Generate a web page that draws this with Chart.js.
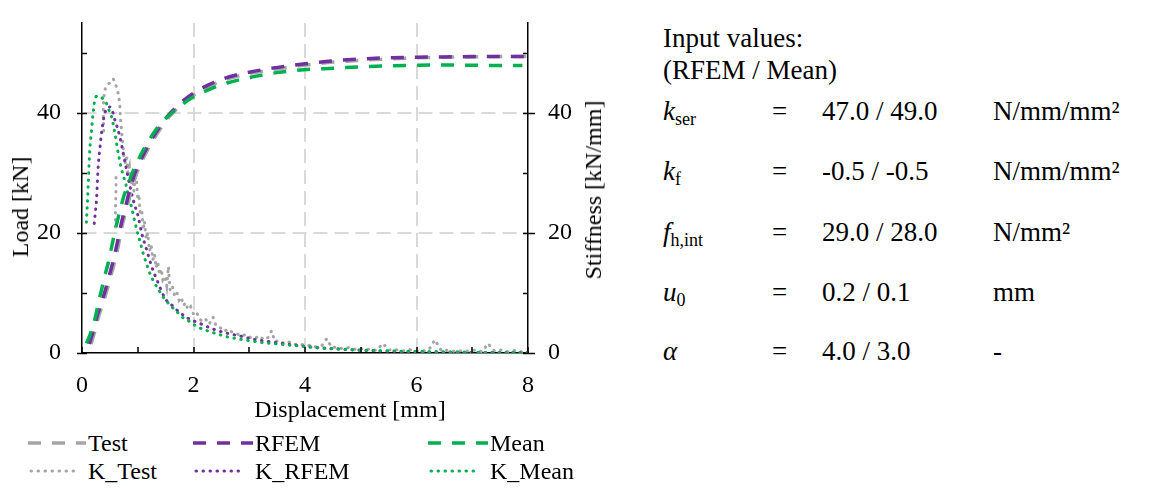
<!DOCTYPE html>
<html><head><meta charset="utf-8">
<script src="https://cdn.jsdelivr.net/npm/chart.js@4.4.1/dist/chart.umd.min.js"></script>
<style>
html,body{margin:0;padding:0;background:#fff;}
body{width:1175px;height:488px;overflow:hidden;position:relative;font-family:'Liberation Serif','Times New Roman',serif;color:#000;font-size:24px;}
#wrap{position:absolute;left:0;top:0;width:620px;height:400px;}
.t{position:absolute;white-space:nowrap;line-height:24px;}
.p{position:absolute;white-space:nowrap;font-size:27px;line-height:27px;}
.rot{transform:translate(-50%,-50%) rotate(-90deg);}
.ctr{transform:translateX(-50%);}
sub{font-size:18px;vertical-align:-5px;line-height:0;font-style:normal;}
svg{position:absolute;}
</style></head>
<body>
<div id="wrap"><canvas id="c" width="620" height="400"></canvas></div>

<div class="t rot" style="left:20px;top:207px;">Load [kN]</div>
<div class="t rot" style="left:593px;top:190px;">Stiffness [kN/mm]</div>
<div class="t ctr" style="left:350px;top:397px;">Displacement [mm]</div>

<!-- legend -->
<svg style="left:28px;top:431px" width="60" height="24"><line x1="0" y1="12" x2="58" y2="12" stroke="#A5A5A5" stroke-width="3.5" stroke-dasharray="13 11"/></svg>
<div class="t" style="left:88px;top:431px;">Test</div>
<svg style="left:193px;top:431px" width="64" height="24"><line x1="0" y1="12" x2="60" y2="12" stroke="#7030A0" stroke-width="3.5" stroke-dasharray="13 11"/></svg>
<div class="t" style="left:255px;top:431px;">RFEM</div>
<svg style="left:428px;top:431px" width="64" height="24"><line x1="0" y1="12" x2="60" y2="12" stroke="#00B050" stroke-width="3.5" stroke-dasharray="13 11"/></svg>
<div class="t" style="left:490px;top:431px;">Mean</div>
<svg style="left:28px;top:459px" width="60" height="24"><line x1="3" y1="12" x2="52" y2="12" stroke="#A5A5A5" stroke-width="3" stroke-linecap="round" stroke-dasharray="0.5 6.5"/></svg>
<div class="t" style="left:88px;top:459px;">K_Test</div>
<svg style="left:193px;top:459px" width="60" height="24"><line x1="3" y1="12" x2="52" y2="12" stroke="#7030A0" stroke-width="3" stroke-linecap="round" stroke-dasharray="0.5 6.5"/></svg>
<div class="t" style="left:255px;top:459px;">K_RFEM</div>
<svg style="left:428px;top:459px" width="60" height="24"><line x1="3" y1="12" x2="52" y2="12" stroke="#00B050" stroke-width="3" stroke-linecap="round" stroke-dasharray="0.5 6.5"/></svg>
<div class="t" style="left:490px;top:459px;">K_Mean</div>

<!-- input values panel -->
<div class="p" style="left:663px;top:25px;">Input values:</div>
<div class="p" style="left:663px;top:57px;">(RFEM / Mean)</div>

<div class="p" style="left:663px;top:98px;"><i>k</i><sub>ser</sub></div>
<div class="p" style="left:772px;top:98px;">=</div>
<div class="p" style="left:822px;top:98px;">47.0 / 49.0</div>
<div class="p" style="left:993px;top:98px;">N/mm/mm²</div>

<div class="p" style="left:663px;top:158px;"><i>k</i><sub>f</sub></div>
<div class="p" style="left:772px;top:158px;">=</div>
<div class="p" style="left:822px;top:158px;">-0.5 / -0.5</div>
<div class="p" style="left:993px;top:158px;">N/mm/mm²</div>

<div class="p" style="left:663px;top:219px;"><i>f</i><sub>h,int</sub></div>
<div class="p" style="left:772px;top:219px;">=</div>
<div class="p" style="left:822px;top:219px;">29.0 / 28.0</div>
<div class="p" style="left:993px;top:219px;">N/mm²</div>

<div class="p" style="left:663px;top:279px;"><i>u</i><sub>0</sub></div>
<div class="p" style="left:772px;top:279px;">=</div>
<div class="p" style="left:822px;top:279px;">0.2 / 0.1</div>
<div class="p" style="left:993px;top:279px;">mm</div>

<div class="p" style="left:663px;top:338px;"><i>α</i></div>
<div class="p" style="left:772px;top:338px;">=</div>
<div class="p" style="left:822px;top:338px;">4.0 / 3.0</div>
<div class="p" style="left:993px;top:338px;">-</div>

<script>
// ---- data ----
const dispMean = [0.08,0.15,0.23,0.30,0.35,0.41,0.47,0.53,0.59,0.65,0.71,0.77,0.85,0.92,1.00,1.10,1.20,1.31,1.45,1.61,1.78,1.95,2.15,2.35,2.60,2.85,3.10,3.40,3.75,4.10,4.50,5.00,5.50,6.00,6.50,7.00,7.50,7.90];
const loadMean = [1.6,3.2,5.6,8.6,10.5,12.9,15.0,17.6,20.2,22.6,24.8,26.7,28.7,30.4,32.0,33.8,35.4,37.0,38.6,40.0,41.3,42.4,43.4,44.2,45.0,45.6,46.1,46.6,47.0,47.3,47.45,47.7,47.85,47.95,48.0,47.95,47.9,47.9];

const dispRFEM = [0.13,0.20,0.26,0.33,0.41,0.48,0.55,0.62,0.70,0.78,0.86,0.95,1.04,1.13,1.25,1.38,1.52,1.68,1.85,2.05,2.25,2.50,2.75,3.00,3.30,3.65,4.00,4.50,5.00,5.50,6.00,6.50,7.00,7.50,8.00];
const loadRFEM = [1.5,3.6,5.8,7.9,10.2,12.6,15.0,17.8,21.4,24.3,27.3,30.0,31.9,33.6,35.6,37.5,39.3,40.9,42.3,43.6,44.6,45.6,46.3,46.8,47.3,47.8,48.2,48.7,49.0,49.2,49.3,49.35,49.4,49.4,49.4];

const dispTest = [0.16,0.23,0.29,0.36,0.44,0.51,0.58,0.65,0.72,0.80,0.88,0.97,1.06,1.15,1.27,1.40,1.54,1.70,1.87,2.07,2.27,2.52,2.77,3.02,3.32,3.67,4.02,4.52,5.02,5.52,6.02,6.52,7.02,7.52,8.00];
const loadTest = [1.5,3.6,5.8,7.9,10.2,12.6,15.0,17.8,21.2,24.0,27.0,29.7,31.7,33.4,35.4,37.3,39.1,40.7,42.1,43.4,44.4,45.4,46.1,46.6,47.1,47.6,48.0,48.5,48.8,49.0,49.2,49.3,49.35,49.4,49.4];

const dispKMean = [0.08,0.11,0.14,0.17,0.20,0.23,0.27,0.32,0.38,0.44,0.49,0.53,0.59,0.65,0.70,0.74,0.79,0.83,0.88,0.92,0.98,1.04,1.10,1.16,1.22,1.30,1.37,1.45,1.53,1.61,1.71,1.82,1.94,2.06,2.22,2.42,2.60,2.77,2.98,3.19,3.45,3.73,4.00,4.21,4.50,4.75,5.10,5.50,6.00,6.50,7.00,7.50,8.00];
const kMean = [21.8,27.7,33.8,37.0,40.0,42.2,42.8,42.8,42.3,41.6,40.3,39.4,36.6,33.3,31.0,29.6,28.0,26.3,24.6,23.0,20.6,18.6,16.5,14.8,13.2,11.7,10.6,9.4,8.5,7.7,6.8,5.8,5.2,4.4,3.8,3.2,2.7,2.4,2.1,1.8,1.55,1.3,1.1,0.9,0.75,0.6,0.45,0.35,0.25,0.18,0.12,0.08,0.05];

const dispKRFEM = [0.22,0.24,0.26,0.29,0.32,0.35,0.38,0.41,0.45,0.50,0.55,0.59,0.64,0.68,0.74,0.80,0.86,0.92,0.97,1.01,1.07,1.16,1.25,1.37,1.49,1.62,1.76,1.90,2.12,2.35,2.60,2.85,3.07,3.43,3.75,4.03,4.35,4.69,5.00,5.50,6.00,6.50,7.00,7.50,8.00];
const kRFEM = [21.6,23.5,25.5,31.0,34.0,36.6,38.6,40.0,40.8,41.0,40.2,38.8,37.4,36.0,33.3,30.5,27.8,25.5,23.9,22.7,20.0,17.2,14.4,11.6,9.1,7.9,6.7,5.8,4.9,4.0,3.3,2.8,2.3,1.8,1.4,1.05,0.8,0.6,0.45,0.3,0.2,0.15,0.1,0.06,0.03];

const dispKTest = [0.60,0.60,0.61,0.61,0.61,
  0.39,0.38,0.39,0.42,0.46,0.50,0.53,0.56,0.60,0.63,0.66,0.68,0.69,0.71,0.73,0.75,
  0.78,0.80,0.82,0.85,0.87,0.90,0.93,0.96,0.98,1.00,1.02,1.04,1.07,
  1.10,1.12,1.15,1.18,1.21,1.24,1.27,1.30,1.33,1.36,1.39,1.42,1.45,1.49,1.52,1.55,1.58,1.62,1.66,1.70,1.74,1.78,1.82,1.86,1.90,1.95,2.00,2.05,2.10,
  2.16,2.22,2.28,2.35,2.41,2.48,2.55,2.62,2.70,2.78,2.86,2.94,3.02,3.10,3.18,3.26,3.34,3.40,3.46,3.54,3.62,3.70,3.80,3.90,4.00,4.10,4.20,4.30,4.39,4.48,4.58,4.68,4.78,4.88,4.98,5.08,5.18,5.28,5.40,5.50,5.62,5.74,5.86,5.98,6.10,6.22,6.33,6.45,6.58,6.70,6.82,6.94,7.06,7.18,7.28,7.40,7.52,7.64,7.76,7.88,8.00];
const kTest = [21.0,24.0,27.0,30.0,null,
  37.0,40.0,42.5,44.2,44.8,45.0,45.4,45.7,44.8,44.0,42.8,41.0,39.0,37.0,35.0,33.0,
  31.5,33.0,30.0,31.0,28.0,29.5,27.0,30.0,28.5,25.5,26.5,23.5,24.0,
  20.5,22.0,19.0,20.0,17.0,18.0,15.5,16.5,14.2,15.2,13.0,14.0,12.2,12.8,11.2,14.4,10.5,11.2,9.6,10.2,8.8,9.3,7.9,8.4,7.2,7.7,6.5,6.9,5.8,
  5.2,5.6,4.8,6.0,4.4,4.2,3.6,4.0,3.4,3.2,2.8,3.1,2.6,2.4,2.9,2.2,2.6,3.7,1.9,2.1,1.6,1.9,1.4,1.6,1.2,1.3,1.0,1.2,2.4,0.9,1.0,0.7,0.9,0.6,0.8,0.5,0.7,0.4,1.6,0.5,0.6,0.3,0.6,0.4,0.3,0.5,2.2,0.3,0.5,0.2,0.4,0.3,0.5,0.2,1.6,0.3,0.5,0.2,0.4,0.2,0.1];

const xTickValues = [0,1,2,3,4,5,6,7,8];
const yTickValues = [0,10,20,30,40,50];

// ---- chart ----
const GRAY = '#A5A5A5', PURPLE = '#7030A0', GREEN = '#00B050';
const pts = (xs, ys) => xs.map((x, i) => ({x: x, y: ys[i]}));
const FONT = {family: "'Liberation Serif','Times New Roman',serif", size: 24};

function dashed(label, xs, ys, color) {
  return {label, data: pts(xs, ys), borderColor: color, borderWidth: 3.5, borderDash: [13, 11],
    pointRadius: 0, fill: false, cubicInterpolationMode: 'monotone', yAxisID: 'y'};
}
function dotted(label, xs, ys, color, mono) {
  return {label, data: pts(xs, ys), borderColor: color, borderWidth: 3, borderDash: [0.5, 6.5],
    borderCapStyle: 'round', pointRadius: 0, fill: false, spanGaps: false,
    cubicInterpolationMode: mono ? 'monotone' : 'default', tension: 0, yAxisID: 'y1'};
}

const tickMarks = {
  id: 'tickMarks',
  afterDraw(chart) {
    const {ctx, chartArea: a, scales: {x, y}} = chart;
    ctx.save();
    ctx.strokeStyle = '#000';
    ctx.lineWidth = 1.5;
    ctx.beginPath();
    yTickValues.forEach(v => {
      const py = Math.round(y.getPixelForValue(v)) + 0.5;
      const major = v % 20 === 0;
      ctx.moveTo(a.left - (major ? 5 : 0), py); ctx.lineTo(a.left + 5, py);
      ctx.moveTo(a.right - 5, py); ctx.lineTo(a.right + (major ? 7 : 0), py);
    });
    xTickValues.forEach(v => {
      const px = Math.round(x.getPixelForValue(v));
      ctx.moveTo(px, a.bottom); ctx.lineTo(px, a.bottom - 6);
    });
    ctx.stroke();
    ctx.restore();
  }
};

const gridCol = (vals) => (c) => (c.tick && vals.includes(c.tick.value)) ? '#D9D9D9' : 'rgba(0,0,0,0)';
const fitV = (w) => (s) => { s.width = w; s.paddingTop = 0; s.paddingBottom = 0; };

new Chart(document.getElementById('c'), {
  type: 'line',
  data: {
    datasets: [
      dashed('Mean', dispMean, loadMean, GREEN),
      dashed('RFEM', dispRFEM, loadRFEM, PURPLE),
      dashed('Test', dispTest, loadTest, GRAY),
      dotted('K_Mean', dispKMean, kMean, GREEN, true),
      dotted('K_RFEM', dispKRFEM, kRFEM, PURPLE, true),
      dotted('K_Test', dispKTest, kTest, GRAY, false)
    ]
  },
  options: {
    responsive: false, animation: false, devicePixelRatio: 1,
    layout: {padding: {top: 23, left: 0, right: 0, bottom: 0}},
    plugins: {legend: {display: false}, tooltip: {enabled: false}},
    scales: {
      x: {
        type: 'linear', min: 0, max: 8,
        afterFit(s) { s.height = 47; s.paddingLeft = 0; s.paddingRight = 0; },
        ticks: {stepSize: 1, font: FONT, color: '#000', padding: 18, maxRotation: 0, autoSkip: false,
          callback: v => (v % 2 === 0 ? String(v) : '')},
        grid: {drawTicks: false, lineWidth: 2, color: gridCol([2, 4, 6])},
        border: {display: true, color: '#000', width: 1.5, dash: [14, 7]}
      },
      y: {
        type: 'linear', position: 'left', min: 0, max: 55,
        afterFit: fitV(82),
        ticks: {stepSize: 10, includeBounds: false, font: FONT, color: '#000', padding: 21,
          callback: v => (v % 20 === 0 ? String(v) : '')},
        grid: {drawTicks: false, lineWidth: 2, color: gridCol([20, 40])},
        border: {display: true, color: '#000', width: 1.5, dash: [14, 7]}
      },
      y1: {
        type: 'linear', position: 'right', min: 0, max: 55,
        afterFit: fitV(92),
        ticks: {stepSize: 10, includeBounds: false, font: FONT, color: '#000', padding: 20,
          callback: v => (v % 20 === 0 ? String(v) : '')},
        grid: {display: false, drawTicks: false},
        border: {display: true, color: '#000', width: 1.5}
      }
    }
  },
  plugins: [tickMarks]
});
</script>
</body></html>
